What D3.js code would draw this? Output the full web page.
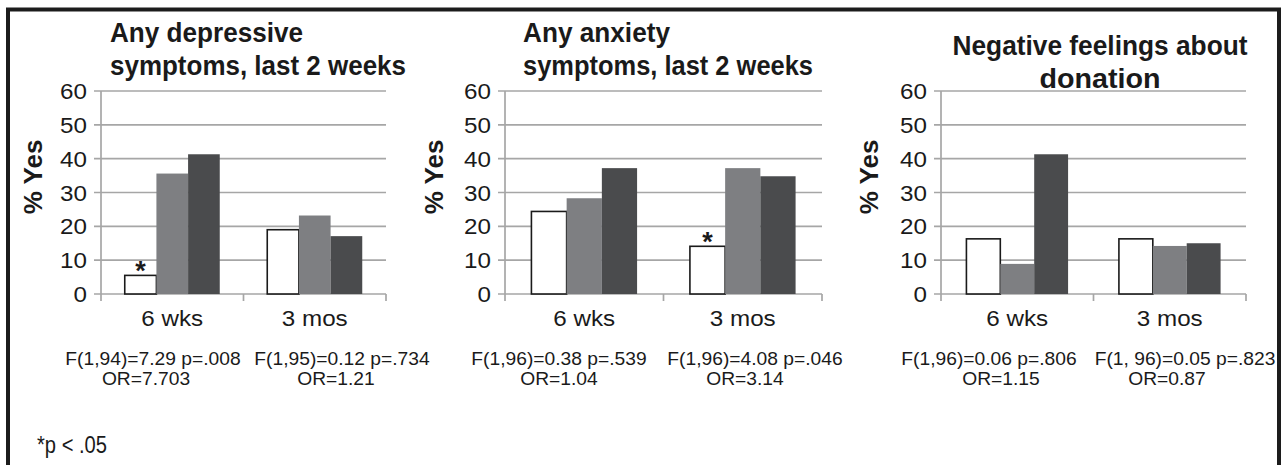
<!DOCTYPE html>
<html>
<head>
<meta charset="utf-8">
<script src="https://cdn.jsdelivr.net/npm/d3@7"></script>
<style>
  html, body { margin: 0; padding: 0; background: #fff; }
  svg { display: block; font-family: "Liberation Sans", Arial, sans-serif; }
  text { fill: #1a1a1a; }
</style>
</head>
<body>
<svg id="chart" width="1287" height="465"></svg>
<script>
// ---------------- data ----------------
const categories = ["6 wks", "3 mos"];
const seriesNames = ["Group A", "Group B", "Group C"];
const yTicks = [0, 10, 20, 30, 40, 50, 60];

const panelTitles = [
  ["Any depressive", "symptoms, last 2 weeks"],
  ["Any anxiety", "symptoms, last 2 weeks"],
  ["Negative feelings about", "donation"]
];

// values per panel, per series (white, gray, dark), per category (6 wks, 3 mos)
const depressiveWhite = [5.5, 19.0];
const depressiveGray  = [35.6, 23.2];
const depressiveDark  = [41.3, 17.1];

const anxietyWhite = [24.4, 14.1];
const anxietyGray  = [28.3, 37.2];
const anxietyDark  = [37.2, 34.8];

const negativeWhite = [16.3, 16.3];
const negativeGray  = [8.9, 14.2];
const negativeDark  = [41.3, 15.0];

// significance markers (series 0 only), per panel per category
const depressiveSig = [true, false];
const anxietySig    = [false, true];
const negativeSig   = [false, false];

const depressiveStats = [["F(1,94)=7.29 p=.008", "OR=7.703"], ["F(1,95)=0.12 p=.734", "OR=1.21"]];
const anxietyStats    = [["F(1,96)=0.38 p=.539", "OR=1.04"], ["F(1,96)=4.08 p=.046", "OR=3.14"]];
const negativeStats   = [["F(1,96)=0.06 p=.806", "OR=1.15"], ["F(1, 96)=0.05 p=.823", "OR=0.87"]];

const footnote = "*p < .05";
const yLabel = "% Yes";

// ---------------- layout ----------------
const panelsData = [
  { series: [depressiveWhite, depressiveGray, depressiveDark], sig: depressiveSig, stats: depressiveStats },
  { series: [anxietyWhite, anxietyGray, anxietyDark], sig: anxietySig, stats: anxietyStats },
  { series: [negativeWhite, negativeGray, negativeDark], sig: negativeSig, stats: negativeStats }
];

const layout = [
  { x0: 101, x1: 386, labelX: 42, titleX: 110, titleY: 42, titleAnchor: "start", titleW: [193, 296], statX: [153, 342], orX: [146, 336] },
  { x0: 505, x1: 822, labelX: 443, titleX: 523, titleY: 42, titleAnchor: "start", titleW: [147, 290], statX: [559, 755], orX: [559, 745] },
  { x0: 941, x1: 1246, labelX: 878, titleX: 1100, titleY: 55, titleAnchor: "middle", titleW: [295, 121], statX: [989, 1185], orX: [1001, 1167] }
];

const colors = ["#ffffff", "#7e7f82", "#4a4b4d"];
const gridColor = "#a6a6a6";

const svg = d3.select("#chart");

svg.append("rect").attr("x", 0).attr("y", 0).attr("width", 1287).attr("height", 465).attr("fill", "#fff");
// outer frame
svg.append("rect")
  .attr("x", 8).attr("y", 9.5).attr("width", 1271).attr("height", 520)
  .attr("fill", "none").attr("stroke", "#1c1c1c").attr("stroke-width", 4);

function txt(g, x, y, s, o) {
  const sx = o.sx !== undefined ? o.sx : 1;
  const t = g.append("text")
    .attr("transform", `translate(${x},${y}) scale(${sx},1)` + (o.rot ? ` rotate(${o.rot})` : ""))
    .attr("text-anchor", o.anchor || "start")
    .style("font-size", o.size + "px")
    .style("font-weight", o.bold ? "bold" : "normal")
    .text(s);
  if (o.len) {
    t.attr("transform", `translate(${x},${y})` + (o.rot ? ` rotate(${o.rot})` : ""))
     .attr("textLength", o.len).attr("lengthAdjust", "spacingAndGlyphs");
  }
  return t;
}

const y = d3.scaleLinear().domain([0, 60]).range([294, 91]);

panelsData.forEach((pd, pi) => {
  const L = layout[pi];
  const g = svg.append("g");
  const x0 = d3.scaleBand().domain(categories).range([L.x0, L.x1]).padding(0);
  const x1 = d3.scaleBand().domain(seriesNames).range([0, x0.bandwidth()]).paddingInner(0).paddingOuter(0.75);

  // gridlines
  g.selectAll("line.grid").data(yTicks).enter().append("line")
    .attr("x1", L.x0 - 7).attr("x2", L.x1)
    .attr("y1", d => y(d)).attr("y2", d => y(d))
    .attr("stroke", gridColor).attr("stroke-width", 1.7);

  // y axis line
  g.append("line").attr("x1", L.x0).attr("x2", L.x0).attr("y1", y(60)).attr("y2", y(0) + 7)
    .attr("stroke", gridColor).attr("stroke-width", 1.7);

  // x tick marks at category boundaries
  const bounds = categories.map(c => x0(c)).concat([L.x1]);
  g.selectAll("line.xt").data(bounds.slice(1)).enter().append("line")
    .attr("x1", d => d).attr("x2", d => d).attr("y1", y(0)).attr("y2", y(0) + 7)
    .attr("stroke", gridColor).attr("stroke-width", 1.7);

  // y tick labels
  yTicks.forEach(t => {
    txt(g, L.x0 - 14, y(t) + 8, String(t), { size: 22, anchor: "end", sx: 1.1 });
  });

  // bars
  categories.forEach((c, ci) => {
    pd.series.forEach((vals, si) => {
      const bx = x0(c) + x1(seriesNames[si]);
      g.append("rect")
        .attr("x", bx).attr("width", x1.bandwidth())
        .attr("y", y(vals[ci])).attr("height", y(0) - y(vals[ci]))
        .attr("fill", colors[si])
        .attr("stroke", si === 0 ? "#1a1a1a" : "none")
        .attr("stroke-width", si === 0 ? 1.6 : 0);
    });
    if (pd.sig[ci]) {
      const bx = x0(c) + x1(seriesNames[0]) + x1.bandwidth() / 2;
      txt(g, bx, y(pd.series[0][ci]) + 5, "*", { size: 27, anchor: "middle", bold: true });
    }
    // category label
    txt(g, x0(c) + x0.bandwidth() / 2, 326, c, { size: 22, anchor: "middle", sx: 1.1 });
    // stats
    txt(g, L.statX[ci], 365, pd.stats[ci][0], { size: 18.5, anchor: "middle", sx: 1.04 });
    txt(g, L.orX[ci], 385, pd.stats[ci][1], { size: 18.5, anchor: "middle", sx: 1.04 });
  });

  // title
  panelTitles[pi].forEach((line, li) => {
    txt(g, L.titleX, L.titleY + li * 32.5, line, { size: 27, bold: true, anchor: L.titleAnchor, len: L.titleW[li] });
  });

  // y label
  txt(g, L.labelX, 177, yLabel, { size: 26, bold: true, anchor: "middle", rot: -90 });
});

txt(svg, 37, 453, footnote, { size: 23, len: 70 });
</script>
</body>
</html>
